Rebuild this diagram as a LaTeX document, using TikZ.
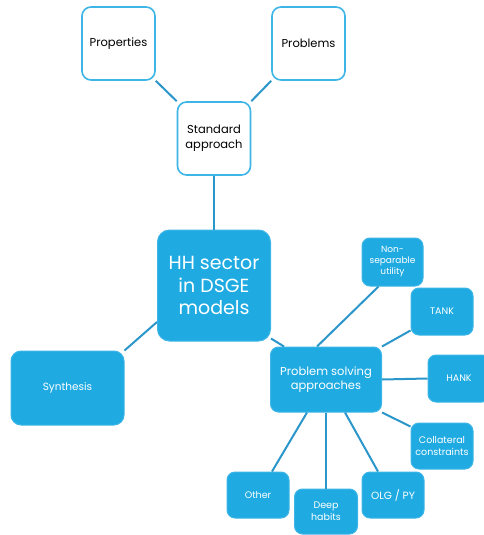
\documentclass[tikz,border=0pt]{standalone}
\usepackage{fontspec}
\setmainfont{Poppins}
\definecolor{boxblue}{HTML}{1FABE2}
\definecolor{edgeblue}{HTML}{3DB5E6}
\definecolor{linkblue}{HTML}{2B96CA}
\tikzset{
  outlinebox/.style={draw=edgeblue, line width=1.6pt, fill=white, rounded corners=9pt,
    text=black, align=center, inner sep=2pt, font=\fontsize{11.5}{15}\selectfont},
  filledbox/.style={draw=edgeblue, line width=1pt, fill=boxblue, rounded corners=8pt,
    text=white, align=center, inner sep=2pt, font=\fontsize{10.5}{13}\selectfont},
  smallbox/.style={filledbox, font=\fontsize{9.5}{12}\selectfont},
  link/.style={draw=linkblue, line width=2pt}
}
\begin{document}
\begin{tikzpicture}[x=1pt, y=-1pt]
  \useasboundingbox (0,0) rectangle (484,535);
  \clip (0,0) rectangle (484,535);

  % standard approach branch
  \node[outlinebox, minimum width=73pt, minimum height=73pt] (prop) at (118.5,43.5) {Properties};
  \node[outlinebox, minimum width=73pt, minimum height=73pt] (prob) at (308.5,43.5) {Problems};
  \node[outlinebox, minimum width=73pt, minimum height=73pt] (std) at (214,138.5) {Standard\\approach};

  % central topic
  \node[filledbox, rounded corners=12pt, minimum width=113pt, minimum height=111pt,
        font=\fontsize{19}{22.5}\selectfont] (hh) at (214,285.5) {HH sector\\in DSGE\\models};

  \node[filledbox, rounded corners=10pt, minimum width=113pt, minimum height=74pt] (syn) at (67.5,388) {Synthesis};

  % problem solving branch
  \node[filledbox, minimum width=111pt, minimum height=65pt, font=\fontsize{11.5}{14}\selectfont] (psa) at (326,379.5) {Problem solving\\approaches};
  \node[smallbox, minimum width=61pt, minimum height=48pt, font=\fontsize{9}{11}\selectfont] (nsu) at (392.5,262) {Non-\\separable\\utility};
  \node[smallbox, minimum width=62pt, minimum height=47pt] (tank) at (442,311.5) {TANK};
  \node[smallbox, minimum width=62pt, minimum height=47pt] (hank) at (459,378.5) {HANK};
  \node[smallbox, minimum width=62pt, minimum height=46pt] (coll) at (442,446) {Collateral\\constraints};
  \node[smallbox, minimum width=62pt, minimum height=46pt] (other) at (258,495) {Other};
  \node[smallbox, minimum width=63pt, minimum height=45pt] (deep) at (326,511.5) {Deep\\habits};
  \node[smallbox, minimum width=62pt, minimum height=46pt, font=\fontsize{10.5}{13}\selectfont] (olg) at (393,495) {OLG / PY};

  % connectors
  \draw[link] (prop.south east) -- (std.north west);
  \draw[link] (prob.south west) -- (std.north east);
  \draw[link] (std.south) -- (hh.north);
  \draw[link] (syn.north east) -- (hh.west |- 0,322);
  \draw[link] ([yshift=3pt]hh.south east) -- ([xshift=14pt]psa.north west);
  \draw[link] ([xshift=-14pt]nsu.south) -- ([xshift=-9pt]psa.north);
  \draw[link] ([yshift=5pt]tank.south west) -- (psa.north east);
  \draw[link] (psa.east) -- (hank.west);
  \draw[link] (psa.south east) -- ([yshift=-4pt]coll.north west);
  \draw[link] ([xshift=-19pt]psa.south) -- ([xshift=14pt]other.north);
  \draw[link] (psa.south) -- (deep.north);
  \draw[link] ([xshift=19pt]psa.south) -- ([xshift=-15pt]olg.north);
\end{tikzpicture}
\end{document}
